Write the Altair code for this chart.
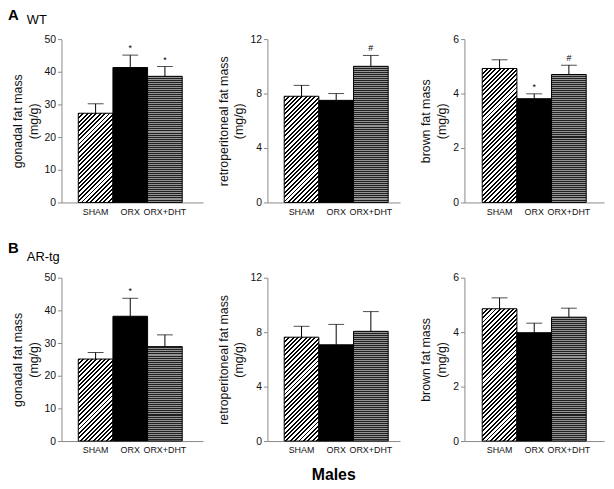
import altair as alt
import pandas as pd

# ---------------- data ----------------
groups = ["SHAM", "ORX", "ORX+DHT"]
row_letters = ["A", "B"]
genotypes = ["WT", "AR-tg"]
measures = [["gonadal fat mass", "(mg/g)"],
            ["retroperitoneal fat mass", "(mg/g)"],
            ["brown fat mass", "(mg/g)"]]
y_max = [50, 12, 6]
y_ticks = [[0, 10, 20, 30, 40, 50], [0, 4, 8, 12], [0, 2, 4, 6]]
x_title = "Males"

# WT
wt_gonadal = [27.3, 41.3, 38.6]
wt_gonadal_err = [2.9, 3.8, 3.0]
wt_retro = [7.8, 7.5, 10.0]
wt_retro_err = [0.8, 0.5, 0.8]
wt_brown = [4.92, 3.81, 4.70]
wt_brown_err = [0.32, 0.18, 0.34]
wt_marks = [["", "*", "*"], ["", "", "#"], ["", "*", "#"]]

# AR-tg
tg_gonadal = [25.1, 38.2, 28.9]
tg_gonadal_err = [2.0, 5.5, 3.6]
tg_retro = [7.63, 7.07, 8.06]
tg_retro_err = [0.80, 1.50, 1.45]
tg_brown = [4.86, 3.98, 4.55]
tg_brown_err = [0.40, 0.35, 0.33]
tg_marks = [["", "*", ""], ["", "", ""], ["", "", ""]]

rows = [
    [(wt_gonadal, wt_gonadal_err), (wt_retro, wt_retro_err), (wt_brown, wt_brown_err)],
    [(tg_gonadal, tg_gonadal_err), (tg_retro, tg_retro_err), (tg_brown, tg_brown_err)],
]
row_marks = [wt_marks, tg_marks]

# ---------------- layout / style ----------------
FONT = "Liberation Sans"
H = 165
widths = [143, 134, 141]
pad_outer = [0.543, 0.414, 0.514]
pad_align = [0.447, 0.586, 0.5]
letter_pos = [(-54, -19), (-54, -25)]
geno_pos = [(-35, -15), (-35, -17)]


def stripe_stops(n, frac, dark, light):
    stops = []
    i = 0
    while i / n < 1 - 1e-9:
        a, b, c = i / n, min((i + frac) / n, 1), min((i + 1) / n, 1)
        stops += [alt.GradientStop(offset=a, color=dark),
                  alt.GradientStop(offset=b, color=dark),
                  alt.GradientStop(offset=b, color=light),
                  alt.GradientStop(offset=c, color=light)]
        i += 1
    return stops


def diag_fill(w, h, period=4.4):
    k = (w + h) / (w * w + h * h)
    n = (w + h) / period
    return alt.LinearGradient(gradient="linear", x1=0, y1=0, x2=w * k, y2=h * k,
                              stops=stripe_stops(n, 0.45, "#000000", "#ffffff"))


def horiz_fill(h, period=2.0):
    n = max(round(h / period), 1)
    return alt.LinearGradient(gradient="linear", x1=0, y1=0, x2=0, y2=1,
                              stops=stripe_stops(n, 0.5, "#202020", "#949494"))


def panel(r, c):
    vals, errs = rows[r][c]
    marks = row_marks[r][c]
    df = pd.DataFrame({"group": groups, "value": vals, "err": errs, "mark": marks})
    df["hi"] = df["value"] + df["err"]
    w = widths[c]
    band = w / (3 + 2 * pad_outer[c])
    xs = alt.Scale(domain=groups, paddingInner=0, paddingOuter=pad_outer[c], align=pad_align[c])
    ys = alt.Scale(domain=[0, y_max[c]], nice=False)
    xaxis = alt.Axis(title=None, labelAngle=0, ticks=False, domainColor="#8a8a8a",
                     labelFontSize=9, labelPadding=5, labelColor="#111111",
                     labelFont=FONT)
    yaxis = alt.Axis(title=measures[c], values=y_ticks[c], tickSize=4, grid=False,
                     domainColor="#8a8a8a", tickColor="#8a8a8a", labelFontSize=10.5,
                     labelColor="#111111", labelFont=FONT, titleFont=FONT,
                     labelOverlap=False, labelFlush=False,
                     titleFontSize=12.5, titleFontWeight="normal", titleColor="#111111",
                     titlePadding=4, titleLineHeight=16, labelPadding=2)

    def X():
        return alt.X("group:N", scale=xs, sort=groups, axis=xaxis)

    def Y(f):
        return alt.Y(f, scale=ys, axis=yaxis)

    base = alt.Chart(df)
    layers = []
    for i, g in enumerate(groups):
        h = vals[i] / y_max[c] * H
        if g == "SHAM":
            fill = diag_fill(band, h)
        elif g == "ORX":
            fill = "#000000"
        else:
            fill = horiz_fill(h)
        bar = base.transform_filter(alt.datum.group == g).mark_bar(
            fill=fill, stroke="#000000", strokeWidth=1
        ).encode(x=X(), y=Y("value:Q"))
        layers.append(bar)
    err = base.mark_rule(color="#000000", strokeWidth=1).encode(
        x=X(), y=Y("value:Q"), y2="hi:Q")
    cap = base.mark_tick(color="#000000", size=16, thickness=1, orient="horizontal").encode(
        x=X(), y=Y("hi:Q"))
    star = base.mark_text(dy=-7, fontSize=9, font=FONT, color="#000000").encode(
        x=X(), y=Y("hi:Q"), text="mark:N")
    layers += [err, cap, star]
    if c == 0:
        lab = alt.Chart(pd.DataFrame({"t": [row_letters[r]]})).mark_text(
            font=FONT, fontSize=15, fontWeight="bold", align="left", baseline="alphabetic",
            color="#000000").encode(text="t:N", x=alt.value(letter_pos[r][0]),
                                    y=alt.value(letter_pos[r][1]))
        geno = alt.Chart(pd.DataFrame({"t": [genotypes[r]]})).mark_text(
            font=FONT, fontSize=13, align="left", baseline="alphabetic",
            color="#000000").encode(text="t:N", x=alt.value(geno_pos[r][0]),
                                    y=alt.value(geno_pos[r][1]))
        layers += [lab, geno]
    if r == 1 and c == 1:
        males = alt.Chart(pd.DataFrame({"t": [x_title]})).mark_text(
            font=FONT, fontSize=16, fontWeight="bold", align="center", baseline="middle",
            color="#000000").encode(text="t:N", x=alt.value(w / 2), y=alt.value(H + 34))
        layers.append(males)
    return alt.layer(*layers).properties(width=w, height=H)


panels = [panel(r, c) for r in range(2) for c in range(3)]
chart = alt.concat(*panels, columns=3, spacing={"row": 76, "column": 65}, bounds="flush").properties(
    padding={"left": 0, "top": -2, "right": 2, "bottom": 2},
    background="#ffffff",
).configure_view(stroke="transparent", strokeWidth=0)

chart.save("out.html", embed_options={"renderer": "svg", "actions": False})
